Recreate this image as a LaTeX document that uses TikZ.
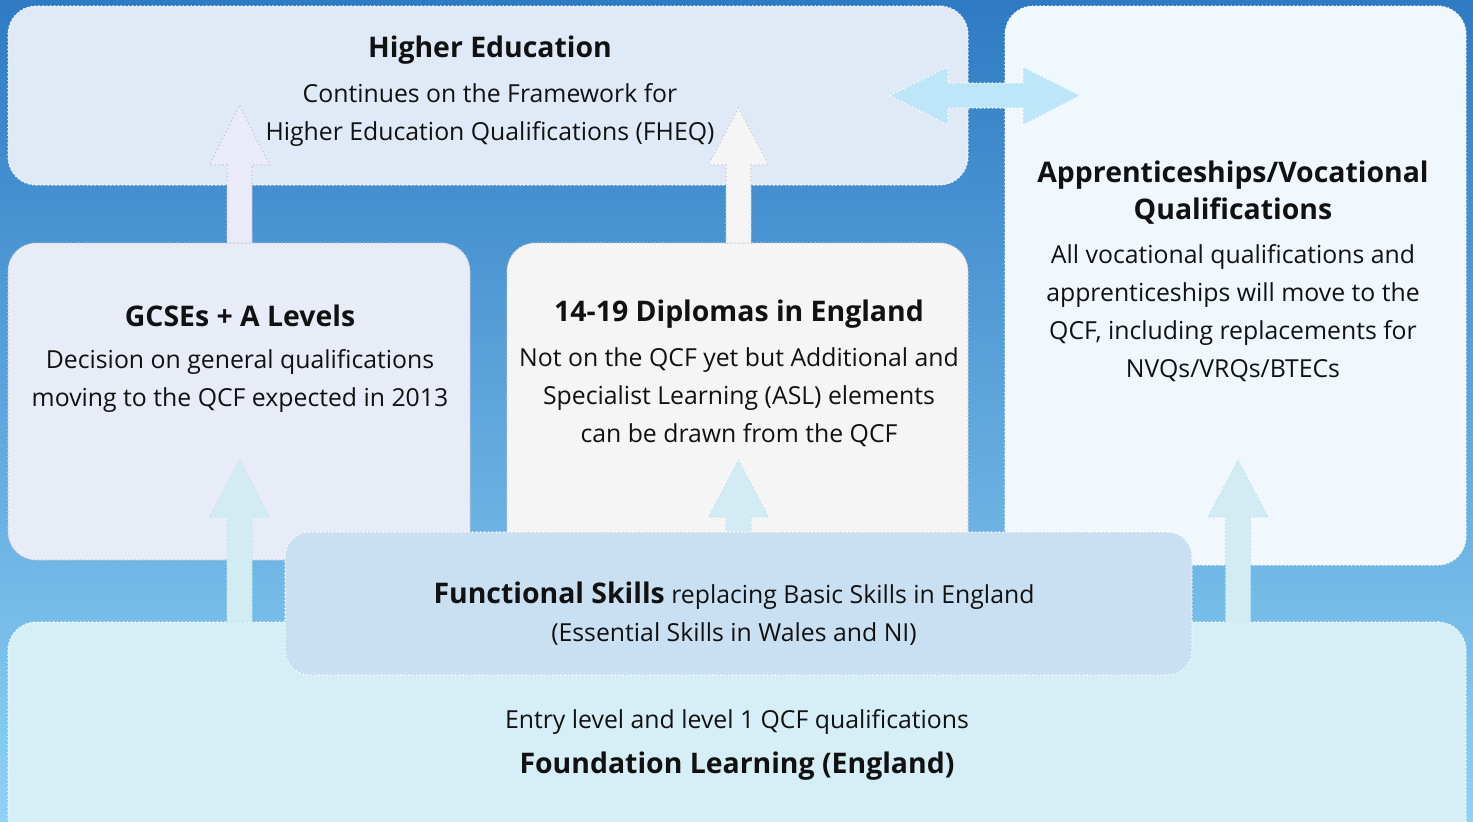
\documentclass[tikz,border=0pt]{standalone}
\usepackage{fontspec}
\setmainfont{Open Sans}
\definecolor{bgtop}{HTML}{2E7BC4}
\definecolor{bgmid}{HTML}{4B99D6}
\definecolor{bgbot}{HTML}{8ED2F4}
\definecolor{hefill}{HTML}{E0EAF6}
\definecolor{gcsefill}{HTML}{E8ECF7}
\definecolor{diplfill}{HTML}{F5F5F5}
\definecolor{appfill}{HTML}{F0F8FE}
\definecolor{funcfill}{HTML}{C9E0F3}
\definecolor{foundfill}{HTML}{D6EFF6}
\definecolor{lavdot}{HTML}{C4C6E4}
\definecolor{greydot}{HTML}{CFCFCF}
\definecolor{arrAfill}{HTML}{E9ECF8}
\definecolor{arrCfill}{HTML}{D3ECF4}
\definecolor{arrCdot}{HTML}{BFE4F0}
\definecolor{dblfill}{HTML}{BEE6F9}
\definecolor{txt}{HTML}{111111}
\tikzset{
  dots/.style={line width=1.6pt, dash pattern=on 0.1pt off 3.8pt, line cap=round},
  box/.style={dots, draw=white, rounded corners=28pt, inner sep=0pt},
  blockarrow/.style={dots, line join=miter},
  title/.style={font=\fontsize{28.4}{37}\selectfont\bfseries, text=txt, align=center, inner sep=0pt},
  body/.style={font=\fontsize{24.8}{38}\selectfont, text=txt, align=center, inner sep=0pt},
}
\newcommand\blockup[5][]{%
  \draw[blockarrow,#1] (#2-12.5,#3) -- (#2-12.5,#4) -- (#2-30,#4) -- (#2,#5) -- (#2+30,#4) -- (#2+12.5,#4) -- (#2+12.5,#3) -- cycle;}
\begin{document}
\begin{tikzpicture}[x=1pt,y=-1pt]
\useasboundingbox (0,0) rectangle (1473,822);
\clip (0,0) rectangle (1473,822);
\shade[top color=bgtop, middle color=bgmid, bottom color=bgbot] (0,0) rectangle (1473,822);

% boxes
\node[box, fill=hefill, minimum width=960pt, minimum height=179pt] (he) at (488,95.5) {};
\node[box, fill=appfill, minimum width=461pt, minimum height=559pt] (app) at (1235.5,285.5) {};
\node[box, draw=lavdot, fill=gcsefill, minimum width=462pt, minimum height=317pt] (gcse) at (239,401.5) {};
\node[box, draw=greydot, fill=diplfill, minimum width=461pt, minimum height=317pt] (dipl) at (737.5,401.5) {};
\node[box, fill=foundfill, minimum width=1458pt, minimum height=230pt] (found) at (737,737) {};

% arrows
\blockup[draw=lavdot, fill=arrAfill]{239.5}{243}{165}{105}
\blockup[draw=greydot, fill=diplfill]{738.5}{243}{165}{108}
\blockup[draw=arrCdot, fill=arrCfill]{239.5}{622}{517}{460}
\blockup[draw=arrCdot, fill=arrCfill]{738.5}{560}{517}{460}
\blockup[draw=arrCdot, fill=arrCfill]{1238}{622}{517}{460}
\draw[blockarrow, draw=white, fill=dblfill]
  (890,95.5) -- (948,67) -- (948,83) -- (1023,83) -- (1023,67) -- (1080,95.5)
  -- (1023,125) -- (1023,108) -- (948,108) -- (948,125) -- cycle;

% functional skills box on top
\node[box, rounded corners=25pt, fill=funcfill, minimum width=907pt, minimum height=143pt] (func) at (738.5,603.5) {};

% texts
\node[title] (het) at (490,50) {Higher Education};
\node[body] (heb) at (490,115) {Continues on the Framework for\\Higher Education Qualifications (FHEQ)};

\node[title] (gcset) at (240,316) {GCSEs + A Levels};
\node[body] (gcseb) at (240,381) {Decision on general qualifications\\moving to the QCF expected in 2013};

\node[title] (diplt) at (739,314) {14-19 Diplomas in England};
\node[body] (diplb) at (739,397.5) {Not on the QCF yet but Additional and\\Specialist Learning (ASL) elements\\can be drawn from the QCF};

\node[title] (appt) at (1233,192.5) {Apprenticeships/Vocational\\Qualifications};
\node[body] (appb) at (1233,313) {All vocational qualifications and\\apprenticeships will move to the\\QCF, including replacements for\\NVQs/VRQs/BTECs};

\node[body] (funcb) at (734,614) {{\fontsize{28.4}{38}\selectfont\bfseries Functional Skills} replacing Basic Skills in England\\(Essential Skills in Wales and NI)};

\node[body] (foundb) at (737,722) {Entry level and level 1 QCF qualifications};
\node[title] (foundt) at (737,766) {Foundation Learning (England)};
\end{tikzpicture}
\end{document}
